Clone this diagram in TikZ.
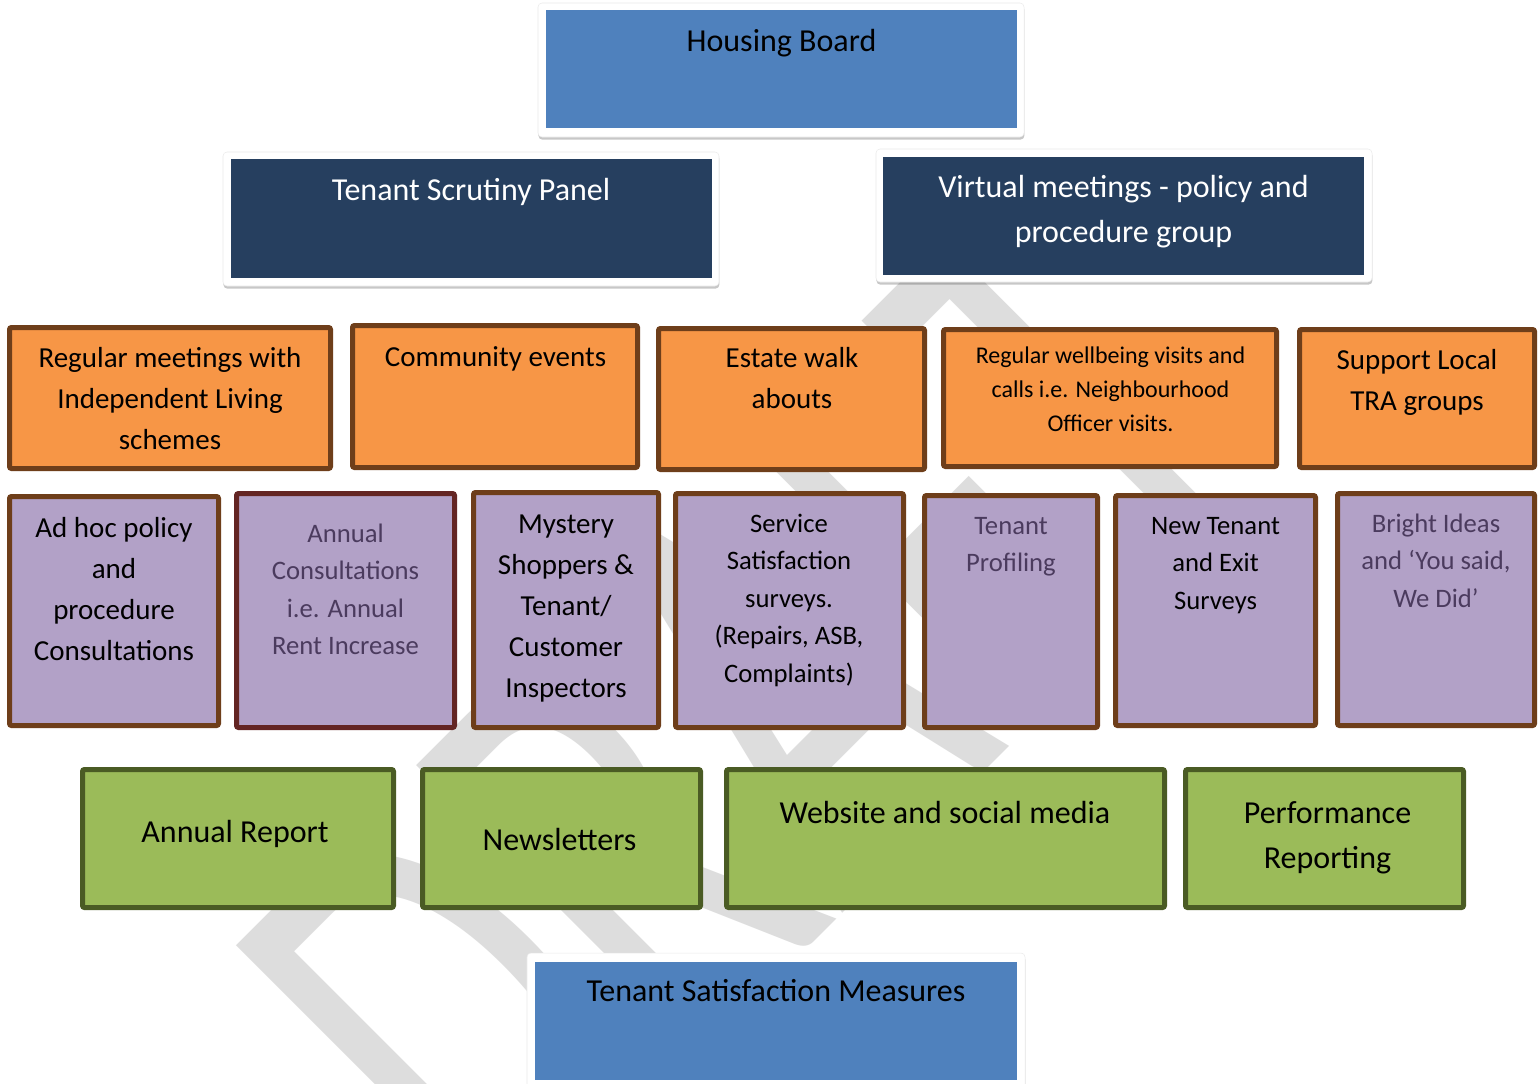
\documentclass[tikz,border=0pt]{standalone}
\usepackage{fontspec}
\setmainfont{Carlito}
\usetikzlibrary{shadows,fit}
\definecolor{hblue}{HTML}{4F81BD}
\definecolor{navy}{HTML}{263F5F}
\definecolor{orangeF}{HTML}{F79646}
\definecolor{brownB}{HTML}{6E3E1A}
\definecolor{redB}{HTML}{632523}
\definecolor{purpleF}{HTML}{B2A1C7}
\definecolor{greenF}{HTML}{9BBB59}
\definecolor{greenB}{HTML}{4A5B24}
\definecolor{greytext}{HTML}{4B3B5E}
\definecolor{wmgrey}{HTML}{DDDDDD}
\begin{document}
\begin{tikzpicture}[x=0.75pt,y=-0.75pt,
  wframe/.style={fill=white, draw=black!8, line width=0.4pt, rounded corners=3pt, inner sep=0pt,
    drop shadow={shadow xshift=0.3pt, shadow yshift=-2pt, opacity=0.22, fill=black}},
  plain/.style={draw=none, inner sep=0pt},
  obox/.style={fill=orangeF, draw=brownB, line width=3.75pt, rounded corners=1.5pt, inner sep=0pt},
  pbox/.style={fill=purpleF, draw=brownB, line width=3.75pt, rounded corners=1.5pt, inner sep=0pt},
  gbox/.style={fill=greenF, draw=greenB, line width=3.75pt, rounded corners=1.5pt, inner sep=0pt},
  txt/.style={anchor=north, align=center, inner sep=0pt},
  fA/.style={font=\fontsize{24}{33.75}\selectfont},
  fB/.style={font=\fontsize{21.75}{30.75}\selectfont},
  fC/.style={font=\fontsize{20}{28.125}\selectfont},
  fD/.style={font=\fontsize{18}{25.5}\selectfont}]
\useasboundingbox (0,0) rectangle (1540,1083);
\fill[white] (0,0) rectangle (1540,1083);
% watermark
\begin{scope}
\clip (0,0) rectangle (1540,1083);
\node[rotate=45, yscale=1.53, anchor=base west, text=wmgrey, inner sep=0pt,
  font=\fontsize{310}{310}\selectfont] (wm) at (503,1253) {DRAFT};
\end{scope}
% top framed boxes
\node[wframe, fit={(538,3) (1024,137)}] (fhb) {};
\node[plain, fill=hblue, fit={(546,10) (1017,128)}] (hb) {};
\node[wframe, fit={(223,152) (719,286)}] (ftsp) {};
\node[plain, fill=navy, fit={(231,159) (712,278)}] (tsp) {};
\node[wframe, fit={(876,149) (1372,282)}] (fvm) {};
\node[plain, fill=navy, fit={(883,157) (1364,275)}] (vm) {};
\node[wframe, fit={(527,953) (1025,1100)}] (ftsm) {};
\node[plain, fill=hblue, fit={(535,962) (1017,1080)}] (tsm) {};
% orange row
\node[obox, fit={(9.5,327.5) (330.5,468.5)}] (o1) {};
\node[obox, fit={(352.5,325.5) (637.5,467.5)}] (o2) {};
\node[obox, fit={(658.5,328.5) (924.5,469.5)}] (o3) {};
\node[obox, fit={(943.5,329.5) (1276.5,466.5)}] (o4) {};
\node[obox, fit={(1299.5,329.5) (1534.5,467.5)}] (o5) {};
% purple row
\node[pbox, fit={(9.5,496.5) (218.5,725.5)}] (p1) {};
\node[pbox, draw=redB, fit={(236.5,493.5) (454.5,727.5)}] (p2) {};
\node[pbox, fit={(473.5,492.5) (658.5,727.5)}] (p3) {};
\node[pbox, fit={(675.5,493.5) (903.5,727.5)}] (p4) {};
\node[pbox, fit={(924.5,495.5) (1097.5,727.5)}] (p5) {};
\node[pbox, fit={(1115.5,495.5) (1315.5,725.5)}] (p6) {};
\node[pbox, fit={(1337.5,493.5) (1534.5,725.5)}] (p7) {};
% green row
\node[gbox, fit={(82.5,769.5) (393.5,907.5)}] (g1) {};
\node[gbox, fit={(422.5,769.5) (700.5,907.5)}] (g2) {};
\node[gbox, fit={(726.5,769.5) (1164.5,907.5)}] (g3) {};
\node[gbox, fit={(1185.5,769.5) (1463.5,907.5)}] (g4) {};
% texts
\node[txt, fA] (hbt) at (781.5,19.5) {\strut Housing Board};
\node[txt, fA, text=white] (tspt) at (471,168.5) {\strut Tenant Scrutiny Panel};
\node[txt, fA, text=white] (vmt) at (1123.5,165.5) {\strut Virtual meetings - policy and\\procedure group};
\node[txt, fB] (o1t) at (170,338.3) {\strut Regular meetings with\\Independent Living\\schemes};
\node[txt, fB] (o2t) at (495.5,337.3) {\strut Community events};
\node[txt, fB] (o3t) at (792,338.8) {\strut Estate walk\\abouts};
\node[txt, fD] (o4t) at (1110.5,339.2) {\strut Regular wellbeing visits and\\calls i.e. Neighbourhood\\Officer visits.};
\node[txt, fB] (o5t) at (1417,340.3) {\strut Support Local\\TRA groups};
\node[txt, fB] (p1t) at (114,508.3) {\strut Ad hoc policy\\and\\procedure\\Consultations};
\node[txt, fC, text=greytext] (p2t) at (345.5,515.75) {\strut Annual\\Consultations\\i.e. Annual\\Rent Increase};
\node[txt, fB] (p3t) at (566,504.3) {\strut Mystery\\Shoppers \&\\Tenant/\\Customer\\Inspectors};
\node[txt, fC] (p4t) at (789,505.75) {\strut Service\\Satisfaction\\surveys.\\(Repairs, ASB,\\Complaints)};
\node[txt, fC, text=greytext] (p5t) at (1011,507.75) {\strut Tenant\\Profiling};
\node[txt, fC] (p6t) at (1215.5,507.75) {\strut New Tenant\\and Exit\\Surveys};
\node[txt, fC, text=greytext] (p7t) at (1436,505.75) {\strut Bright Ideas\\and ‘You said,\\We Did’};
\node[txt, fA] (g1t) at (235,810.5) {\strut Annual Report};
\node[txt, fA] (g2t) at (559.5,818.5) {\strut Newsletters};
\node[txt, fA] (g3t) at (945,791.5) {\strut Website and social media};
\node[txt, fA] (g4t) at (1327.5,791.5) {\strut Performance\\Reporting};
\node[txt, fA] (tsmt) at (776,969.5) {\strut Tenant Satisfaction Measures};
\end{tikzpicture}
\end{document}
